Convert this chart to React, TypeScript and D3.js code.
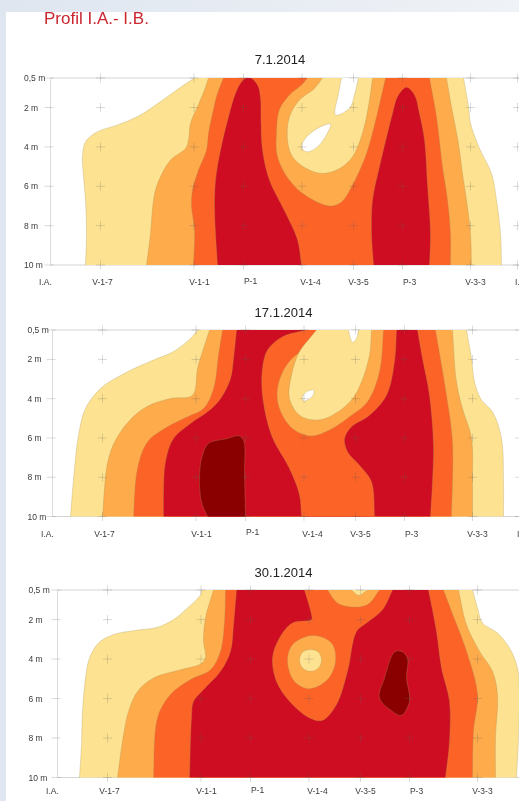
import React from 'react';
import * as d3 from 'd3';

type Pt = [number, number];

// distance along the profile / depth in metres
const stationNames = ['I.A.', 'V-1-7', 'V-1-1', 'P-1', 'V-1-4', 'V-3-5', 'P-3', 'V-3-3', 'I.B.'];
const stationDist = [0, 50, 143.5, 193, 251.5, 303, 352, 420, 467];
const labelDist = [-5, 52, 149, 200, 260, 308, 359, 425, 471];
const depthTicks = [0.5, 2, 4, 6, 8, 10];
const depthNames = ['0,5 m', '2 m', '4 m', '6 m', '8 m', '10 m'];
const bandColors = ['#ffffff', '#fde391', '#fdab4c', '#fc6328', '#cf1020', '#8a0004'];

// 7.1.2014
const a1: Pt[] = [[144,.5],[130,.97],[110,1.7],[90,2.38],[67,2.89],[47,3.23],[35,3.74],[32,4.5],[33,5.5],[35,6.7],[36,8.4],[35,10],[451,10],[450,8.4],[446,6.7],[441,5.35],[429,4.08],[420,2.8],[418,1.96],[413,.5]];
const a2: Pt[] = [[158,.5],[154,1.1],[147,1.96],[140,2.8],[138,3.66],[135,4.08],[120,4.67],[107,5.87],[103,6.7],[100,8.4],[96,10],[421,10],[420,8.4],[416,6.7],[412,5.35],[408,3.83],[401,1.96],[396,.5]];
const a3: Pt[] = [[173,.5],[167,1.28],[162,2.3],[158,3.3],[156,4.16],[148,5.18],[142,6.2],[141,7.04],[144,8.2],[143,10],[400,10],[400,8.4],[397,6.7],[392,5],[386,2.47],[379,.5]];
const a4: Pt[] = [[257,.5],[251,.86],[239,1.36],[229,2.1],[226,3.3],[227,4.5],[239,5.7],[256,6.5],[279,7],[291,6.8],[302,5.94],[316,4.33],[326,2.47],[335,.5]];
const a5: Pt[] = [[272,.5],[264,1.03],[249,1.62],[239,2.47],[237,3.65],[242,4.5],[256,5.1],[272,5.35],[289,5.1],[302,4.5],[312,3.3],[319,1.62],[322,.5]];
const a6: Pt[] = [[291,.5],[288,1.28],[285,2.38],[299,2.04],[304,1.36],[308,.5]];
const a7: Pt[] = [[280,2.84],[277,3.3],[267,4],[256,4.25],[251,4],[256,3.5],[267,3.06]];
const a8: Pt[] = [[198,.45],[191,.7],[185,1.28],[178,2.47],[170,4.16],[165,5.69],[164,7.04],[165,8.4],[167,10],[251,10],[247,8.72],[234,7.25],[219,5.7],[212,4.16],[210.5,2.7],[210,1.5],[207,.85]];
const a9: Pt[] = [[356,.97],[347,1.45],[342,2.3],[337,3.3],[329,5],[322,6.7],[321,8.4],[323,10],[379,10],[380,8.4],[377,5.9],[374,3.65],[369,2.3],[364,1.36]];

// 17.1.2014
const b1: Pt[] = [[145,.5],[138,.93],[121,1.6],[101,2.03],[75,2.63],[48,3.48],[33,4.5],[26,5.86],[22,7.56],[18,10],[451,10],[451,8.24],[449,6.03],[440,4.67],[429,4.07],[422,3.14],[419,1.95],[414,.5]];
const b2: Pt[] = [[157,.5],[151,1.44],[145,2.46],[140,3.82],[118,3.99],[91,4.5],[68,5.69],[56,7.05],[50,10],[420,10],[420,8.24],[419,6],[410,4.5],[404,3.14],[400,.5]];
const b3: Pt[] = [[170,.5],[166,1.78],[161,3.5],[151,4.5],[135,4.92],[115,5.43],[95,6.2],[85,7.56],[81,10],[399,10],[400,6.2],[394,3.82],[383,.5]];
const b4: Pt[] = [[184,.5],[181,1.95],[178,2.97],[168,4],[155,4.67],[138,5.26],[121,6.03],[113,7.2],[111,8.9],[111,10],[378,10],[380,8.24],[381,6.37],[377,3.82],[370,1.95],[365,.5]];
const b5: Pt[] = [[254,.5],[230,.84],[215,1.52],[210,2.46],[210,3.82],[219,5.86],[237,7.56],[247,8.9],[249,10],[322,10],[319,8.24],[307,7.39],[295,6.7],[292,6.03],[299,5.43],[317,4.84],[334,3.82],[342,2.1],[344,.5]];
const b6: Pt[] = [[277,.5],[267,1.01],[250,1.52],[234,2.29],[225,3.48],[227,4.5],[240,5.52],[259,5.9],[277,5.6],[297,4.92],[315,4.16],[327,2.63],[331,.5]];
const b7: Pt[] = [[264,.5],[257,.93],[247,1.6],[239,2.8],[237,3.99],[247,4.84],[264,5.09],[280,4.84],[299,4.07],[309,3.14],[317,1.78],[319,.5]];
const b8: Pt[] = [[296,.5],[298,.93],[300,1.13],[304,.93],[306,.5]];
const b9: Pt[] = [[250,3.9],[254,3.65],[261,3.56],[261,3.78],[255,4.07],[251,4.12]];
const b10: Pt[] = [[150,6.88],[156,6.28],[175,6.03],[186,5.89],[191,6.11],[192,7.9],[193,10],[155,10],[149,9.26],[147,7.9]];

// 30.1.2014
const c1: Pt[] = [[144,.5],[143,.74],[130,1.41],[116,2],[100,2.39],[76,2.56],[56,2.76],[41,3.19],[32,3.95],[28,4.96],[25,6.65],[24,8.34],[22,10],[459,10],[461,8],[462,5.8],[460,4.45],[452,3.44],[440,2.68],[425,2.17],[420,1.41],[415,.5]];
const c2: Pt[] = [[156,.5],[148,1.92],[146,3.1],[148,3.95],[143,4.25],[123,4.54],[96,4.96],[80,5.64],[71,6.65],[66,7.83],[60,10],[438,10],[438,8],[440,5.8],[435,4.62],[422,3.6],[409,2.26],[401,.5]];
const c3: Pt[] = [[168,.5],[167,2.09],[163,3.6],[153,4.54],[133,5.04],[113,5.8],[100,6.98],[96,10],[415,10],[416,7.66],[420,5.8],[409,3.6],[394,1.58],[386,.5]];
const c4: Pt[] = [[179,.5],[176,2.26],[173,3.6],[163,4.62],[146,5.55],[136,6.14],[134,6.98],[132,10],[388,10],[392,8.17],[392,6.14],[384,4.45],[379,2.6],[371,.5]];
const c5: Pt[] = [[247,.5],[254,1.75],[254,2],[235,2.17],[222,2.93],[215,3.95],[219,5.13],[232,6.14],[252,6.98],[265,7.1],[279,6.3],[290,4.62],[299,2.6],[309,2.17],[325,1.5],[335,.5]];
const c6: Pt[] = [[270,.5],[280,1.16],[294,1.36],[310,1.24],[322,.5]];
const c7: Pt[] = [[294,.5],[301,.77],[310,.5]];
const c8: Pt[] = [[230,4.11],[235,3.27],[255,2.81],[274,3.19],[278,4.11],[270,5.04],[252,5.5],[237,5.13]];
const c9: Pt[] = [[242,4.06],[245,3.66],[253,3.52],[261,3.66],[264,4.06],[261,4.45],[253,4.62],[245,4.45]];
const c10: Pt[] = [[337,3.64],[344,3.61],[350,3.95],[349,4.96],[352,6.14],[344,6.85],[335,6.65],[322,5.97],[327,4.96]];

// band index + ring, in painting order
const panels = [
  { date: '7.1.2014', left: 50.5, top: 78, bottom: 265, dateX: 280, dateY: 63.5, tickX: 24, nameY: 285,
    layers: [[1, a1], [2, a2], [3, a3], [2, a4], [1, a5], [0, a6], [0, a7], [4, a8], [4, a9]] as [number, Pt[]][] },
  { date: '17.1.2014', left: 52.5, top: 330, bottom: 516.5, dateX: 283.5, dateY: 316.5, tickX: 27.5, nameY: 536.5,
    layers: [[1, b1], [2, b2], [3, b3], [4, b4], [3, b5], [2, b6], [1, b7], [0, b8], [0, b9], [5, b10]] as [number, Pt[]][] },
  { date: '30.1.2014', left: 57.5, top: 590, bottom: 777.5, dateX: 283.5, dateY: 576.5, tickX: 28.5, nameY: 794,
    layers: [[1, c1], [2, c2], [3, c3], [4, c4], [3, c5], [2, c6], [1, c7], [2, c8], [1, c9], [5, c10]] as [number, Pt[]][] },
];

const EDGE_TOP = 0.5;
const EDGE_BOTTOM = 10;

// carry a boundary on past the plot edge in the direction it arrives from
function beyond(p: Pt, from: Pt, depth: number): Pt {
  const t = (depth - p[1]) / (p[1] - from[1]);
  return [p[0] + (p[0] - from[0]) * t, depth];
}

// rings that run along the plot edge get pushed outside it, the clip cuts them straight
function pushEdges(ring: Pt[]): Pt[] {
  const n = ring.length;
  const out: Pt[] = [];
  ring.forEach((p, i) => {
    const q = ring[(i + 1) % n];
    out.push(p);
    const onTop = p[1] === EDGE_TOP && q[1] === EDGE_TOP;
    const onBottom = p[1] === EDGE_BOTTOM && q[1] === EDGE_BOTTOM;
    if (onTop || onBottom) {
      const depth = onTop ? EDGE_TOP - 0.5 : EDGE_BOTTOM + 0.5;
      out.push(beyond(p, ring[(i - 1 + n) % n], depth), beyond(q, ring[(i + 2) % n], depth));
    }
  });
  return out;
}

const Panel = ({ panel, index }: { panel: typeof panels[number]; index: number }) => {
  const x = d3.scaleLinear().domain([0, 470]).range([panel.left, panel.left + 470]);
  const y = d3.scaleLinear().domain([EDGE_TOP, EDGE_BOTTOM]).range([panel.top, panel.bottom]);
  const line = d3.line<Pt>()
    .x(d => x(d[0]))
    .y(d => y(d[1]))
    .curve(d3.curveCatmullRomClosed.alpha(0.5));
  const clipId = `plot-${index}`;
  const grid = '#5a5a5a';

  return (
    <g>
      <clipPath id={clipId}>
        <rect x={panel.left} y={panel.top} width={519 - panel.left} height={panel.bottom - panel.top} />
      </clipPath>
      <line x1={panel.left} x2={519} y1={panel.top} y2={panel.top} stroke="#d4d4d4" />
      <line x1={panel.left} x2={519} y1={panel.bottom} y2={panel.bottom} stroke="#d4d4d4" />
      <line x1={panel.left} x2={panel.left} y1={panel.top} y2={panel.bottom} stroke="#dcdcdc" />

      <g clipPath={`url(#${clipId})`}>
        {panel.layers.map(([band, ring], i) => (
          <path key={i} d={line(pushEdges(ring)) || ''} fill={bandColors[band]}
            stroke="#a8935a" strokeOpacity={0.5} strokeWidth={0.6} />
        ))}
      </g>

      {/* crosses at the measuring points */}
      {stationDist.slice(1).map(s => depthTicks.map(d => (
        <g key={`${s}-${d}`} stroke={grid} strokeOpacity={0.28} strokeWidth={0.8}>
          <line x1={x(s) - 4.5} x2={x(s) + 4.5} y1={y(d)} y2={y(d)} />
          <line x1={x(s)} x2={x(s)} y1={y(d) - 4.5} y2={y(d) + 4.5} />
        </g>
      )))}
      {depthTicks.map(d => (
        <line key={d} x1={panel.left - 6} x2={panel.left + 3} y1={y(d)} y2={y(d)} stroke={grid} strokeOpacity={0.28} strokeWidth={0.8} />
      ))}

      <g fontFamily="'Liberation Sans', Arial, sans-serif" fill="#3a3a3a">
        <text x={panel.dateX} y={panel.dateY} fontSize={13} textAnchor="middle" fill="#222">{panel.date}</text>
        {depthTicks.map((d, i) => (
          <text key={d} x={panel.tickX} y={y(d) + 3} fontSize={8.5}>{depthNames[i]}</text>
        ))}
        {stationNames.map((n, i) => (
          <text key={n} x={x(labelDist[i])} y={panel.nameY - (n === 'P-1' ? 1.5 : 0)} fontSize={8.5} textAnchor="middle">{n}</text>
        ))}
      </g>
    </g>
  );
};

export default function App() {
  return (
    <svg width={519} height={801} style={{ position: 'absolute', left: 0, top: 0, display: 'block' }}>
      <defs>
        <linearGradient id="band" x1="0" x2="1" y1="0" y2="0">
          <stop offset="0" stopColor="#dfe6f0" />
          <stop offset="1" stopColor="#eff2f6" />
        </linearGradient>
        <filter id="soft" x="0" y="0" width="100%" height="100%">
          <feGaussianBlur stdDeviation="0.45" />
        </filter>
      </defs>
      <rect width={519} height={801} fill="url(#band)" />
      <rect x={6} y={12} width={513} height={789} fill="#ffffff" />
      <g filter="url(#soft)">
        <text x={44} y={24} fontSize={17} fill="#c9252f" fontFamily="'Liberation Sans', Arial, sans-serif">Profil I.A.- I.B.</text>
        {panels.map((p, i) => <Panel key={p.date} panel={p} index={i} />)}
      </g>
    </svg>
  );
}
